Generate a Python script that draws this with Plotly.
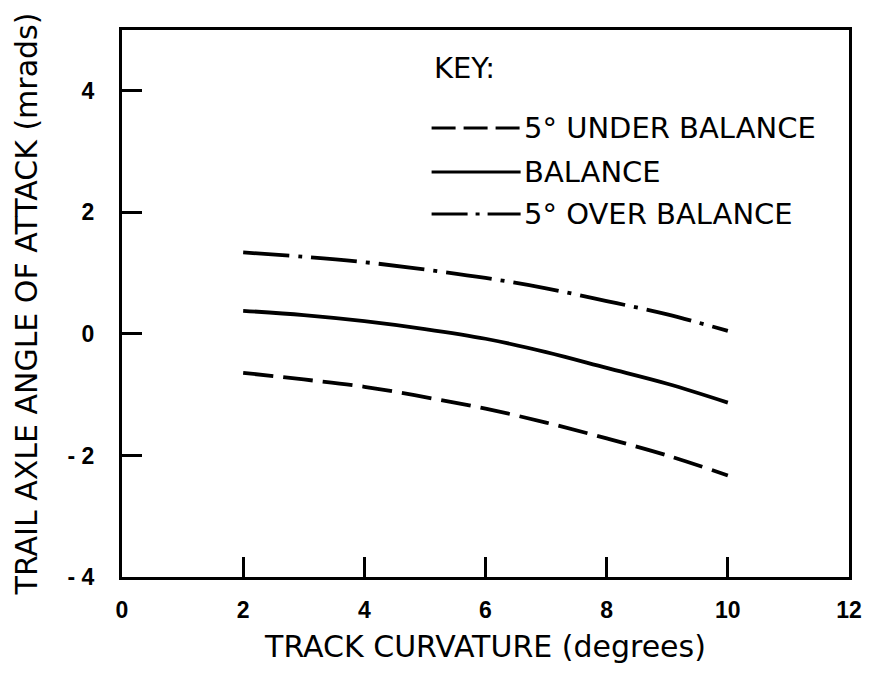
import plotly.graph_objects as go

# Track curvature (degrees)
curvature = [2, 3, 4, 5, 6, 7, 8, 9, 10]

# Trail axle angle of attack (mrads) for each cant condition
under_balance = [-0.64, -0.75, -0.87, -1.04, -1.23, -1.46, -1.72, -2.00, -2.33]
balance = [0.38, 0.31, 0.21, 0.08, -0.08, -0.30, -0.56, -0.82, -1.13]
over_balance = [1.34, 1.27, 1.18, 1.06, 0.92, 0.75, 0.54, 0.32, 0.05]

x_ticks = [0, 2, 4, 6, 8, 10, 12]
y_ticks = [-4, -2, 0, 2, 4]
y_tick_text = ["- 4", "- 2", "0", "2", "4"]

key_labels = ["5\u00b0 UNDER BALANCE", "BALANCE", "5\u00b0 OVER BALANCE"]

FONT = "DejaVu Sans"
TICK_FONT = "Liberation Sans"
INK = "black"

curve_dash = ["30px,10px", "solid", "46px,9px,4px,9px"]
key_dash = ["24px,8px", "solid", "36px,8px,4px,8px"]

fig = go.Figure()
for name, ys, dash in zip(key_labels, [under_balance, balance, over_balance], curve_dash):
    fig.add_trace(go.Scatter(
        x=curvature, y=ys, mode="lines", name=name,
        line=dict(color=INK, width=3.8, shape="spline", dash=dash),
        showlegend=False, hoverinfo="skip",
    ))

# Hand-drawn key inside the plot box
L, R, T, B = 122, 857, 30, 577
def px_x(p):
    return (p - L) / (R - L)
def px_y(p):
    return (B - p) / (B - T)

fig.add_annotation(x=px_x(435), y=px_y(68), xref="paper", yref="paper",
                   text="KEY:", showarrow=False, xanchor="left", yanchor="middle",
                   font=dict(family=FONT, size=29, color=INK))
for label, dash, ypx in zip(key_labels, key_dash, [128, 172, 214]):
    fig.add_shape(type="line", xref="paper", yref="paper",
                  x0=px_x(435), x1=px_x(525), y0=px_y(ypx), y1=px_y(ypx),
                  line=dict(color=INK, width=3, dash=dash))
    fig.add_annotation(x=px_x(526), y=px_y(ypx), xref="paper", yref="paper",
                       text=label, showarrow=False, xanchor="left", yanchor="middle",
                       font=dict(family=FONT, size=29, color=INK))

axis_common = dict(
    showgrid=False, zeroline=False, showline=True, linecolor=INK, linewidth=3,
    mirror=True, ticks="inside", ticklen=20, tickwidth=3, tickcolor=INK,
    tickfont=dict(family=TICK_FONT, size=23, color=INK, weight="bold"),
)

fig.update_xaxes(
    range=[0, 12], tickvals=x_ticks, ticktext=[str(v) for v in x_ticks],
    ticklabelstandoff=10,
    title=dict(text="TRACK CURVATURE (degrees)", standoff=15,
               font=dict(family=FONT, size=30, color=INK)),
    **axis_common,
)
fig.update_yaxes(
    range=[-4, 5], tickvals=y_ticks, ticktext=y_tick_text,
    ticklabelstandoff=20,
    title=dict(text="TRAIL AXLE ANGLE OF ATTACK (mrads)", standoff=22,
               font=dict(family=FONT, size=30, color=INK)),
    **axis_common,
)

fig.update_layout(
    width=874, height=675,
    margin=dict(l=L, r=874 - R, t=T, b=675 - B),
    paper_bgcolor="white", plot_bgcolor="white",
    font=dict(family=FONT, color=INK),
)

fig.write_html("out.html")
